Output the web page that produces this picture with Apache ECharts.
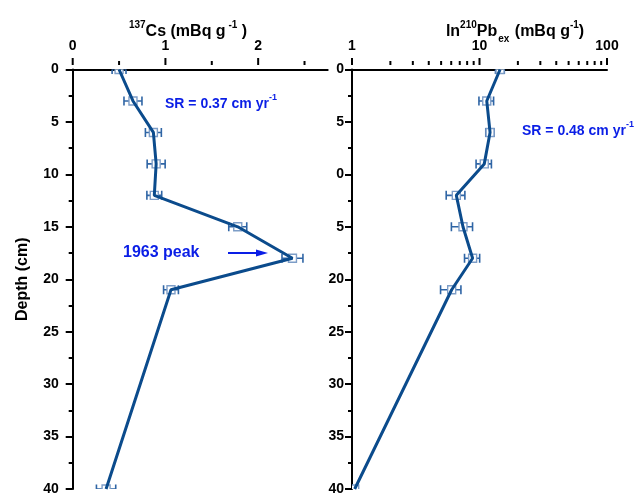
<!DOCTYPE html>
<html><head><meta charset="utf-8">
<script src="https://cdn.jsdelivr.net/npm/echarts@6/dist/echarts.min.js"></script>
<style>html,body{margin:0;padding:0;background:#fff}#c{width:643px;height:496px}</style>
</head><body><div id="c"></div>
<script>
// ---- data ----
const depths = [0, 3, 6, 9, 12, 15, 18, 21, 40];
const csValues = [0.50, 0.65, 0.87, 0.90, 0.88, 1.78, 2.37, 1.06, 0.36];
const csErrors = [0.075, 0.097, 0.086, 0.097, 0.08, 0.097, 0.113, 0.08, 0.104];
const pbValues = [14.5, 11.4, 12.1, 10.9, 6.58, 7.42, 8.83, 6.05, 1.05];
const pbErrors = [1.15, 1.5, 0.9, 1.5, 1.1, 1.4, 1.2, 1.1, 0.05];
const csMajorTicks = [0, 1, 2];
const csMinorTicks = [0.5, 1.5, 2.5];
const pbMajorTicks = [1, 10, 100];
const pbMinorTicks = [2, 3, 4, 5, 6, 7, 8, 9, 20, 30, 40, 50, 60, 70, 80, 90];

const FONT = '"Liberation Sans", Arial, sans-serif';
const LINE = '#0b4b8c', ERR = '#2f65a5', MK = '#7d9dc7', ANN = '#0a1ee6';
const AX_OFF = 4.5;

function pts(vals, errs) { return vals.map((v, i) => [v, depths[i], errs ? errs[i] : 0]); }

function errRender(params, api) {
  const v = api.value(0), d = api.value(1), e = api.value(2);
  const c = api.coord([v, d]), l = api.coord([v - e, d]), r = api.coord([v + e, d]);
  const cap = 4.5, hs = 4;
  const st = { stroke: ERR, lineWidth: 1.6 };
  return { type: 'group', children: [
    { type: 'line', shape: { x1: l[0], y1: c[1], x2: r[0], y2: c[1] }, style: st },
    { type: 'line', shape: { x1: l[0], y1: c[1] - cap, x2: l[0], y2: c[1] + cap }, style: st },
    { type: 'line', shape: { x1: r[0], y1: c[1] - cap, x2: r[0], y2: c[1] + cap }, style: st },
    { type: 'rect', shape: { x: c[0] - hs, y: c[1] - hs, width: 2 * hs, height: 2 * hs }, style: { fill: '#fff', stroke: MK, lineWidth: 1.4 } },
    { type: 'rect', shape: { x: c[0] - 0.6, y: c[1] - 0.6, width: 1.2, height: 1.2 }, style: { fill: MK } }
  ]};
}
function tickRender(params, api) {
  const p = api.coord([api.value(0), 0]);
  const y0 = p[1] - AX_OFF;
  return { type: 'line', shape: { x1: p[0], y1: y0, x2: p[0], y2: y0 - api.value(2) }, style: { stroke: '#000', lineWidth: 2 } };
}
const tickData = (maj, min) => maj.map(v => [v, 0, 7]).concat(min.map(v => [v, 0, 4]));

const labelStyle = { color: '#000', fontWeight: 'bold', fontSize: 14, fontFamily: FONT };
const axLine = { show: true, lineStyle: { color: '#000', width: 2 } };

function yAx(idx, margin, name) {
  return {
    gridIndex: idx, type: 'value', inverse: true, min: 0, max: 40, interval: 5,
    axisLine: axLine, axisTick: { show: true, inside: false, length: 7, lineStyle: { color: '#000', width: 2 } },
    minorTick: { show: true, splitNumber: 2, length: 4, lineStyle: { color: '#000', width: 2 } },
    splitLine: { show: false },
    axisLabel: Object.assign({ margin: margin }, labelStyle),
    name: name || '', nameLocation: 'middle', nameGap: 42, nameRotate: 90,
    nameTextStyle: { color: '#000', fontWeight: 'bold', fontSize: 16, fontFamily: FONT }
  };
}

const option = {
  animation: false,
  backgroundColor: '#fff',
  grid: [
    { left: 72.7, top: 69.5, width: 255, height: 419.5 },
    { left: 352, top: 69.5, width: 255, height: 419.5 }
  ],
  xAxis: [
    { gridIndex: 0, type: 'value', position: 'top', offset: AX_OFF, min: 0, max: 2.75, interval: 1,
      axisLine: axLine, axisTick: { show: false }, splitLine: { show: false },
      axisLabel: Object.assign({ margin: 12, showMaxLabel: false }, labelStyle) },
    { gridIndex: 1, type: 'log', logBase: 10, position: 'top', offset: AX_OFF, min: 1, max: 100,
      axisLine: axLine, axisTick: { show: false }, splitLine: { show: false },
      axisLabel: Object.assign({ margin: 12 }, labelStyle) }
  ],
  yAxis: [ yAx(0, 14, 'Depth (cm)'), yAx(1, 8) ],
  series: [
    { type: 'line', xAxisIndex: 0, yAxisIndex: 0, data: pts(csValues), symbol: 'none',
      lineStyle: { color: LINE, width: 3 } },
    { type: 'custom', xAxisIndex: 0, yAxisIndex: 0, data: pts(csValues, csErrors), renderItem: errRender, clip: true },
    { type: 'line', xAxisIndex: 1, yAxisIndex: 1, data: pts(pbValues), symbol: 'none',
      lineStyle: { color: LINE, width: 3 } },
    { type: 'custom', xAxisIndex: 1, yAxisIndex: 1, data: pts(pbValues, pbErrors), renderItem: errRender, clip: true },
    { type: 'custom', xAxisIndex: 0, yAxisIndex: 0, data: tickData(csMajorTicks, csMinorTicks), renderItem: tickRender, clip: false, silent: true },
    { type: 'custom', xAxisIndex: 1, yAxisIndex: 1, data: tickData(pbMajorTicks, pbMinorTicks), renderItem: tickRender, clip: false, silent: true }
  ],
  graphic: [
    { type: 'text', x: 188, y: 30, z: 10, style: {
      text: '{s|137}{b|Cs (mBq g}{s| -1}{b| )}', align: 'center', verticalAlign: 'middle',
      rich: {
        b: { fontSize: 16, fontWeight: 'bold', fontFamily: FONT, fill: '#000', verticalAlign: 'bottom', lineHeight: 20 },
        s: { fontSize: 10, fontWeight: 'bold', fontFamily: FONT, fill: '#000', verticalAlign: 'top', lineHeight: 12 }
      } } },
    { type: 'text', x: 515, y: 30, z: 10, style: {
      text: '{b|ln}{s|210}{b|Pb}{u|ex}{b| (mBq g}{s|-1}{b|)}', align: 'center', verticalAlign: 'middle',
      rich: {
        b: { fontSize: 16, fontWeight: 'bold', fontFamily: FONT, fill: '#000', verticalAlign: 'bottom', lineHeight: 20 },
        s: { fontSize: 10, fontWeight: 'bold', fontFamily: FONT, fill: '#000', verticalAlign: 'top', lineHeight: 12 },
        u: { fontSize: 10, fontWeight: 'bold', fontFamily: FONT, fill: '#000', verticalAlign: 'bottom', lineHeight: 10, padding: [0, 1, -4, 1] }
      } } },
    { type: 'text', x: 165, y: 102, z: 10, style: {
      text: '{b|SR = 0.37 cm yr}{s|-1}', align: 'left', verticalAlign: 'middle',
      rich: {
        b: { fontSize: 14, fontWeight: 'bold', fontFamily: FONT, fill: ANN, verticalAlign: 'bottom', lineHeight: 18 },
        s: { fontSize: 9, fontWeight: 'bold', fontFamily: FONT, fill: ANN, verticalAlign: 'top', lineHeight: 10 }
      } } },
    { type: 'text', x: 522, y: 129, z: 10, style: {
      text: '{b|SR = 0.48 cm yr}{s|-1}', align: 'left', verticalAlign: 'middle',
      rich: {
        b: { fontSize: 14, fontWeight: 'bold', fontFamily: FONT, fill: ANN, verticalAlign: 'bottom', lineHeight: 18 },
        s: { fontSize: 9, fontWeight: 'bold', fontFamily: FONT, fill: ANN, verticalAlign: 'top', lineHeight: 10 }
      } } },
    { type: 'text', x: 123, y: 253, z: 10, style: {
      text: '1963 peak', fill: ANN, font: 'bold 16px ' + FONT, align: 'left', verticalAlign: 'middle' } },
    { type: 'line', z: 10, shape: { x1: 228, y1: 253, x2: 258, y2: 253 }, style: { stroke: ANN, lineWidth: 2 } },
    { type: 'polygon', z: 10, shape: { points: [[256, 249.5], [268, 253], [256, 256.5]] }, style: { fill: ANN } },
    { type: 'rect', z: 20, shape: { x: 322, y: 165, width: 14, height: 70 }, style: { fill: '#fff' } }
  ]
};
const chart = echarts.init(document.getElementById('c'), null, { renderer: 'canvas' });
chart.setOption(option);
</script></body></html>
